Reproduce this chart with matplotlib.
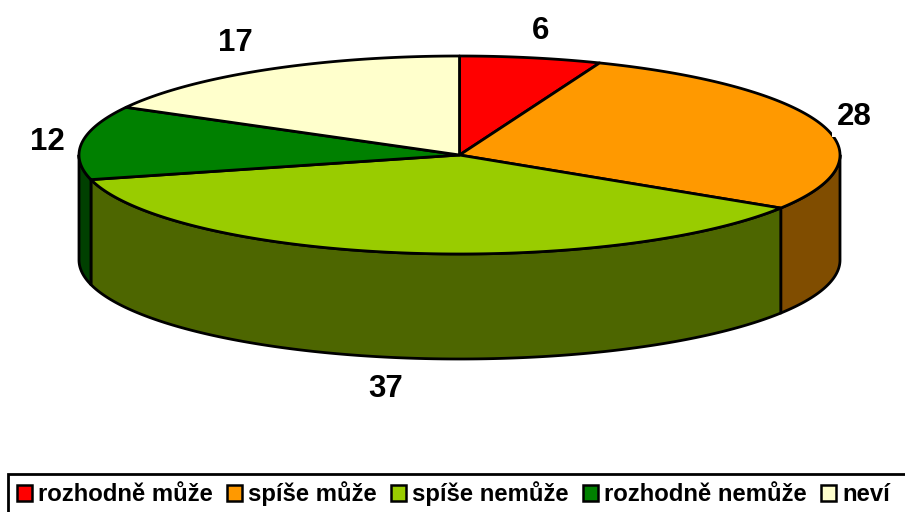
import numpy as np
import matplotlib
matplotlib.use("Agg")
import matplotlib.pyplot as plt
from matplotlib.patches import Polygon, Rectangle, Patch

categories = ["rozhodně může", "spíše může", "spíše nemůže", "rozhodně nemůže", "neví"]
values = [6, 28, 37, 12, 17]
top_colors = ["#FF0000", "#FF9900", "#99CC00", "#008000", "#FFFFCC"]
side_colors = ["#800000", "#804D00", "#4D6600", "#004000", "#80801A"]
label_pos = [(541, 31), (854, 117), (386, 389), (47, 142), (235, 43)]

CX, CY, A, B, DEPTH = 459.5, 155, 380.5, 99, 105
plt.rcParams["font.family"] = ["Liberation Sans", "DejaVu Sans"]

fig = plt.figure(figsize=(9.05, 5.12), dpi=100)
ax = fig.add_axes([0, 0, 1, 1])
ax.set_xlim(0, 905)
ax.set_ylim(512, 0)
ax.axis("off")


def rim(t0, t1, n=200):
    t = np.linspace(t0, t1, n)
    return CX + A * np.sin(t), CY - B * np.cos(t)


edges = np.cumsum([0] + values) / sum(values) * 2 * np.pi
LW = 2.0

# outer walls (only the front half of the pie is visible)
for i in range(len(values)):
    lo, hi = max(edges[i], np.pi / 2), min(edges[i + 1], 3 * np.pi / 2)
    if hi <= lo:
        continue
    x, y = rim(lo, hi)
    pts = np.r_[np.c_[x, y], np.c_[x[::-1], y[::-1] + DEPTH]]
    ax.add_patch(Polygon(pts, closed=True, fc=side_colors[i], ec="black", lw=LW,
                         joinstyle="round", zorder=2))

# top faces
for i in range(len(values)):
    x, y = rim(edges[i], edges[i + 1])
    pts = np.r_[[[CX, CY]], np.c_[x, y]]
    ax.add_patch(Polygon(pts, closed=True, fc=top_colors[i], ec="black", lw=LW,
                         joinstyle="round", zorder=3))

# data labels
for v, (lx, ly) in zip(values, label_pos):
    ax.text(lx, ly, str(v), ha="center", va="center", fontsize=22.5, fontweight="bold",
            zorder=5, bbox=dict(fc="white", ec="none", pad=3.5))

# legend box
ax.add_patch(Rectangle((8, 474), 920, 60, fc="white", ec="black", lw=2, zorder=1))
handles = [Patch(fc=c, ec="black", lw=1.8) for c in top_colors]
ax.legend(handles, categories, ncol=5, loc="center left", bbox_to_anchor=(17, 494),
          bbox_transform=ax.transData, frameon=False,
          prop=dict(family="Liberation Sans", weight="bold", size=17.2),
          handlelength=0.63, handleheight=0.66, handletextpad=0.23, columnspacing=0.62,
          borderpad=0, borderaxespad=0)

fig.savefig("out.png", dpi=100)
